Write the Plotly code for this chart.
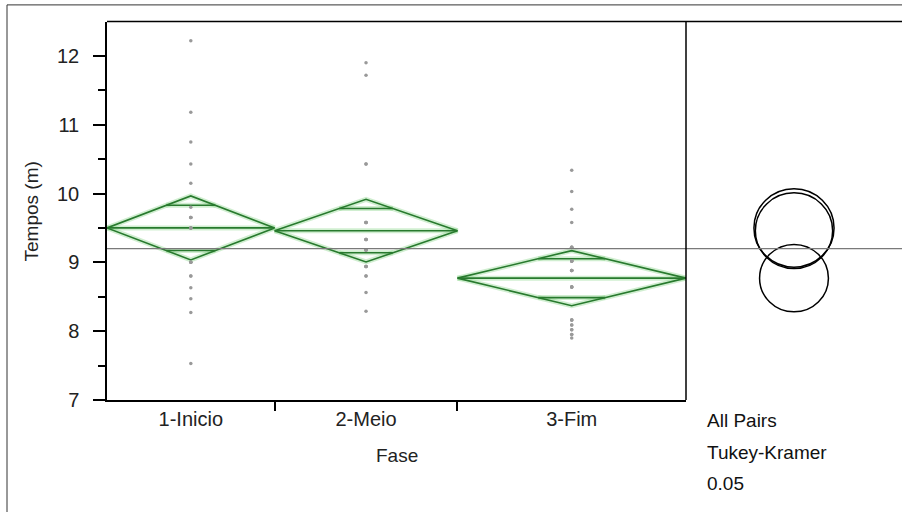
import numpy as np
import plotly.graph_objects as go

# ---- data -----------------------------------------------------------------
phases = ["1-Inicio", "2-Meio", "3-Fim"]

tempos_inicio = [12.22, 11.18, 10.75, 10.43, 10.15, 9.80, 9.65, 9.65, 9.65,
                 9.50, 9.50, 9.50, 9.50, 9.00, 9.00, 9.00, 8.80, 8.80,
                 8.63, 8.47, 8.27, 7.53]
tempos_meio = [11.90, 11.72, 10.43, 10.43, 9.58, 9.58, 9.58, 9.58,
               9.33, 9.33, 9.33, 9.33, 9.18, 9.18, 9.18, 9.18,
               8.94, 8.94, 8.94, 8.94, 8.80, 8.80, 8.56, 8.29]
tempos_fim = [10.34, 10.03, 9.77, 9.58, 9.22, 9.22, 9.22,
              9.02, 9.02, 9.02, 9.02, 9.02, 8.88, 8.88, 8.88, 8.88,
              8.64, 8.64, 8.64, 8.64, 8.16, 8.16, 8.16, 8.09, 8.09,
              8.02, 8.02, 7.95, 7.95, 7.90]

group_means = [9.50, 9.46, 8.77]     # group means
ci95_half = [0.465, 0.455, 0.40]     # half-height of the 95% means diamonds
tukey_radius = [0.57, 0.55, 0.49]    # Tukey-Kramer comparison circle radii
grand_mean = 9.20

y_major = [7, 8, 9, 10, 11, 12]
y_minor = [7.5, 8.5, 9.5, 10.5, 11.5]
y_range = [7, 12.5]
test_label = ["All Pairs", "Tukey-Kramer", "0.05"]

# ---- page geometry (pixels) -------------------------------------------------
W, H = 902, 523
PX_L, PX_DIV, PX_R = 107, 686, 902
PX_TOP, PX_BOT = 22, 408.5


def px(x):
    return x / W


def py(y):
    return 1 - y / H


FONT = "Liberation Sans, Arial, Helvetica, sans-serif"
GREEN = "#287a2e"
GLOW = "rgba(120,205,120,0.35)"

groups = [tempos_inicio, tempos_meio, tempos_fim]
sizes = [len(g) for g in groups]
edges = np.concatenate([[0], np.cumsum(sizes)])
centers = (edges[:-1] + edges[1:]) / 2

fig = go.Figure()

# means diamonds with overlap marks
for i, vals in enumerate(groups):
    a, b, c = edges[i], edges[i + 1], centers[i]
    m, h = group_means[i], ci95_half[i]
    half_w = (b - a) / 2
    dx = half_w * (1 - 1 / np.sqrt(2))
    dy = h / np.sqrt(2)
    xs = [a, c, b, c, a, None, a, b, None,
          c - dx, c + dx, None, c - dx, c + dx]
    ys = [m, m + h, m, m - h, m, None, m, m, None,
          m + dy, m + dy, None, m - dy, m - dy]
    fig.add_trace(go.Scatter(x=xs, y=ys, mode="lines",
                             line=dict(color=GLOW, width=5),
                             hoverinfo="skip", showlegend=False))
    fig.add_trace(go.Scatter(x=xs, y=ys, mode="lines",
                             line=dict(color=GREEN, width=1.6),
                             hoverinfo="skip", showlegend=False))

# raw observations
for i, vals in enumerate(groups):
    fig.add_trace(go.Scatter(x=[centers[i]] * len(vals), y=vals, mode="markers",
                             marker=dict(color="#999999", size=3.5),
                             showlegend=False, name=phases[i]))

# group boundary ticks live on an overlaid axis
fig.add_trace(go.Scatter(x=[edges[0], edges[-1]], y=[y_range[0]] * 2,
                         mode="markers", marker=dict(opacity=0, size=1),
                         xaxis="x3", yaxis="y", showlegend=False,
                         hoverinfo="skip"))

# comparison circles panel
panel_w = (PX_R - PX_DIV) / ((PX_BOT - PX_TOP) / (y_range[1] - y_range[0]))
fig.add_trace(go.Scatter(x=[0], y=[grand_mean], mode="markers",
                         marker=dict(size=1, opacity=0),
                         xaxis="x2", yaxis="y", showlegend=False, hoverinfo="skip"))
for m, r in zip(group_means, tukey_radius):
    fig.add_shape(type="circle", xref="x2", yref="y",
                  x0=-r, x1=r, y0=m - r, y1=m + r,
                  line=dict(color="black", width=1.5))

# grand mean line across both panels
fig.add_shape(type="line", xref="paper", yref="y",
              x0=px(PX_L), x1=px(PX_R), y0=grand_mean, y1=grand_mean,
              line=dict(color="#7a7a7a", width=1.2))

# frames
frame = dict(color="black", width=1.5)
for x0, y0, x1, y1 in [
    (PX_L, PX_TOP, PX_R, PX_TOP),        # top of plot box
    (PX_DIV, PX_TOP, PX_DIV, PX_BOT),    # divider to circle panel
]:
    fig.add_shape(type="line", xref="paper", yref="paper",
                  x0=px(x0), y0=py(y0), x1=px(x1), y1=py(y1), line=frame)
outer = dict(color="#333333", width=1)
fig.add_shape(type="line", xref="paper", yref="paper",
              x0=px(7), y0=py(5), x1=px(W), y1=py(5), line=outer)
fig.add_shape(type="line", xref="paper", yref="paper",
              x0=px(7), y0=py(5), x1=px(7), y1=py(H), line=outer)

# axis titles and test label
fig.add_annotation(text="Tempos (m)", xref="paper", yref="paper",
                   x=px(31), y=py(216), textangle=-90, showarrow=False,
                   xanchor="center", yanchor="middle",
                   font=dict(family=FONT, size=19, color="#222"))
fig.add_annotation(text="Fase", xref="paper", yref="paper",
                   x=px((PX_L + PX_DIV) / 2), y=py(465), showarrow=False,
                   xanchor="center", yanchor="middle",
                   font=dict(family=FONT, size=19, color="#222"))
for k, t in enumerate(test_label):
    fig.add_annotation(text=t, xref="paper", yref="paper",
                       x=px(705), y=py(430 + 32 * k), xanchor="left",
                       yanchor="middle", showarrow=False,
                       font=dict(family=FONT, size=19, color="#111"))

fig.update_layout(
    width=W, height=H,
    margin=dict(l=0, r=0, t=0, b=0),
    paper_bgcolor="white", plot_bgcolor="white",
    showlegend=False,
    xaxis=dict(domain=[px(PX_L), px(PX_DIV)], range=[edges[0], edges[-1]],
               tickvals=list(centers), ticktext=phases, ticks="",
               showline=True, linecolor="black", linewidth=1.5,
               showgrid=False, zeroline=False, fixedrange=True,
               tickfont=dict(family=FONT, size=20, color="#222")),
    xaxis3=dict(overlaying="x", anchor="y", side="bottom",
                domain=[px(PX_L), px(PX_DIV)], range=[edges[0], edges[-1]],
                tickvals=list(edges[1:-1]), ticks="outside", ticklen=10,
                tickwidth=1.5, tickcolor="black", showticklabels=False,
                showgrid=False, zeroline=False, showline=False),
    xaxis2=dict(domain=[px(PX_DIV), px(PX_R)], anchor="y",
                range=[-panel_w / 2, panel_w / 2],
                visible=False, fixedrange=True),
    yaxis=dict(domain=[py(PX_BOT), py(PX_TOP)], range=y_range,
               tickvals=y_major, ticks="outside", ticklen=12, tickwidth=1.5,
               tickcolor="black", showline=True, linecolor="black",
               linewidth=1.5, showgrid=False, zeroline=False,
               ticklabelstandoff=10,
               minor=dict(tickvals=y_minor, ticks="outside", ticklen=7,
                          tickwidth=1.5, tickcolor="black", showgrid=False),
               tickfont=dict(family=FONT, size=20, color="#222")),
)

fig.write_html("out.html")
